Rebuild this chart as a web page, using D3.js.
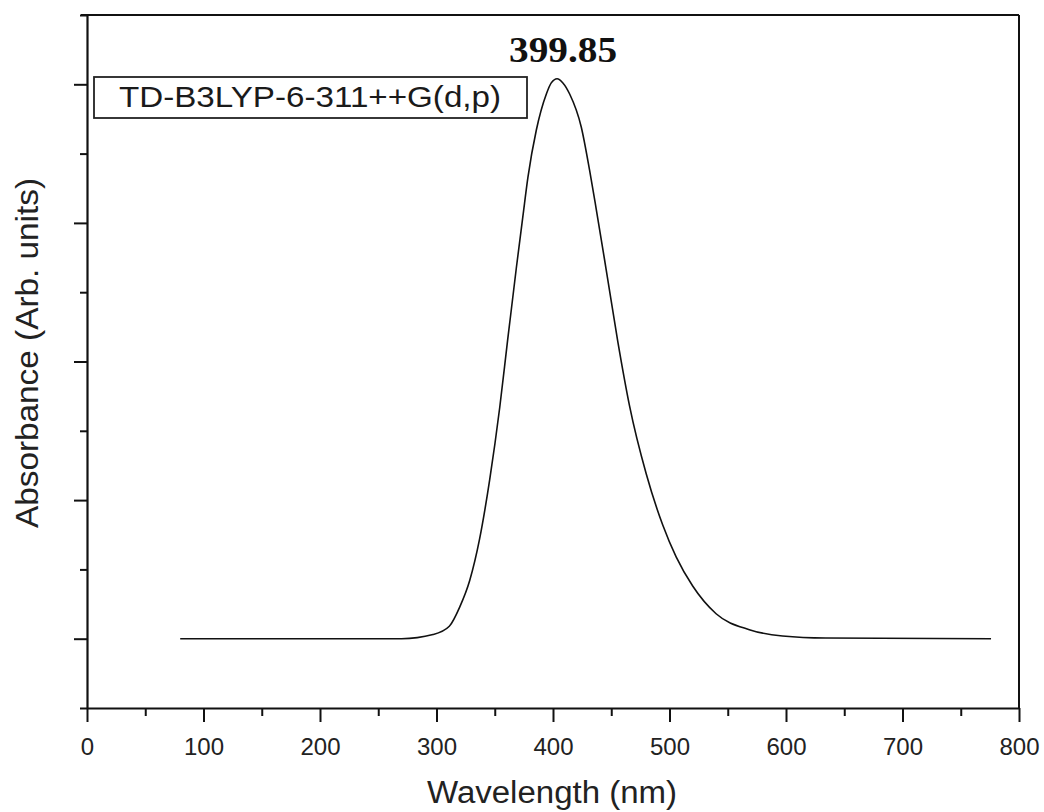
<!DOCTYPE html>
<html>
<head>
<meta charset="utf-8">
<script src="https://cdn.jsdelivr.net/npm/d3@7/dist/d3.min.js"></script>
<style>
  html, body { margin: 0; padding: 0; background: #fff; }
  svg { display: block; }
</style>
</head>
<body>
<svg id="chart" width="1044" height="812"></svg>
<script>
// ---- data ----
const wavelength = [80, 270, 297, 311, 320, 328.5, 337, 345.7, 354.3, 361, 368.6, 374.2, 378.5, 385.7, 394.3, 398.5, 403.5, 408.5, 414.3, 424.3, 431.4, 437.1, 445.7, 455.7, 465.7, 480, 494.2, 505.7, 519.9, 540, 568.5, 597, 634, 776];
const absorbance = [0, 0, 0.03, 0.09, 0.23, 0.42, 0.72, 1.15, 1.67, 2.15, 2.68, 3.05, 3.33, 3.67, 3.93, 4.01, 4.04, 4.01, 3.93, 3.69, 3.38, 3.10, 2.66, 2.14, 1.68, 1.19, 0.82, 0.59, 0.38, 0.18, 0.065, 0.02, 0.005, 0];
const xMajorTicks = [0, 100, 200, 300, 400, 500, 600, 700, 800];
const xMinorTicks = [50, 150, 250, 350, 450, 550, 650, 750];
const yMajorTicks = [0, 1, 2, 3, 4];
const yMinorTicks = [-0.5, 0.5, 1.5, 2.5, 3.5, 4.5];
const peakLabel = "399.85";
const legendLabel = "TD-B3LYP-6-311++G(d,p)";
const xTitle = "Wavelength (nm)";
const yTitle = "Absorbance (Arb. units)";

// ---- layout ----
const L = 87, R = 1019, T = 15, B = 708;
const svg = d3.select("#chart");
const x = d3.scaleLinear().domain([0, 800]).range([L, R]);
const y = d3.scaleLinear().domain([-0.5, 4.5]).range([B, T]);

const data = wavelength.map((w, i) => ({ w, a: absorbance[i] }));

// frame (top & right)
svg.append("line").attr("x1", L - 6).attr("x2", R).attr("y1", T).attr("y2", T)
  .attr("stroke", "#111").attr("stroke-width", 2);
svg.append("line").attr("x1", R).attr("x2", R).attr("y1", T).attr("y2", B)
  .attr("stroke", "#111").attr("stroke-width", 2);

// x axis
const gx = svg.append("g").attr("transform", `translate(0,${B})`);
gx.call(d3.axisBottom(x).tickValues(xMajorTicks).tickSize(14).tickSizeOuter(0).tickPadding(16).tickFormat(d3.format("d")));
gx.append("g").call(d3.axisBottom(x).tickValues(xMinorTicks).tickSize(8).tickSizeOuter(0).tickFormat(""))
  .select(".domain").remove();
gx.selectAll(".domain").attr("stroke", "#111").attr("stroke-width", 2.2);
gx.selectAll(".tick line").attr("stroke", "#111").attr("stroke-width", 2);
gx.selectAll(".tick text").attr("fill", "#222").attr("font-family", "'Liberation Sans', Arial, sans-serif")
  .attr("font-size", 24);

// y axis
const gy = svg.append("g").attr("transform", `translate(${L},0)`);
gy.call(d3.axisLeft(y).tickValues(yMajorTicks).tickSize(13).tickSizeOuter(0).tickFormat(""));
gy.append("g").call(d3.axisLeft(y).tickValues(yMinorTicks).tickSize(7).tickSizeOuter(0).tickFormat(""))
  .select(".domain").remove();
gy.selectAll(".domain").attr("stroke", "#111").attr("stroke-width", 2.2);
gy.selectAll(".tick line").attr("stroke", "#111").attr("stroke-width", 2);

// curve
const line = d3.line().x(d => x(d.w)).y(d => y(d.a)).curve(d3.curveMonotoneX);
svg.append("path").datum(data).attr("d", line)
  .attr("fill", "none").attr("stroke", "#111").attr("stroke-width", 1.6);

// peak label
const peak = data.reduce((m, d) => d.a > m.a ? d : m, data[0]);
svg.append("text").attr("x", x(peak.w) + 6).attr("y", 62)
  .attr("text-anchor", "middle")
  .attr("font-family", "'Liberation Serif', 'Times New Roman', serif")
  .attr("font-weight", "bold").attr("font-size", 35).attr("fill", "#111")
  .attr("textLength", 108).attr("lengthAdjust", "spacingAndGlyphs")
  .text(peakLabel);

// legend box
svg.append("rect").attr("x", 94).attr("y", 77).attr("width", 433).attr("height", 41)
  .attr("fill", "#fff").attr("stroke", "#222").attr("stroke-width", 1.8);
svg.append("text").attr("x", 310).attr("y", 107).attr("text-anchor", "middle")
  .attr("font-family", "'Liberation Sans', Arial, sans-serif").attr("font-size", 30).attr("fill", "#1a1a1a")
  .attr("textLength", 382).attr("lengthAdjust", "spacingAndGlyphs")
  .text(legendLabel);

// axis titles
svg.append("text").attr("x", 552).attr("y", 803).attr("text-anchor", "middle")
  .attr("font-family", "'Liberation Sans', Arial, sans-serif").attr("font-size", 31).attr("fill", "#222")
  .attr("textLength", 250).attr("lengthAdjust", "spacingAndGlyphs")
  .text(xTitle);
svg.append("text").attr("transform", "translate(38,353) rotate(-90)").attr("text-anchor", "middle")
  .attr("font-family", "'Liberation Sans', Arial, sans-serif").attr("font-size", 31).attr("fill", "#222")
  .attr("textLength", 350).attr("lengthAdjust", "spacingAndGlyphs")
  .text(yTitle);
</script>
</body>
</html>
